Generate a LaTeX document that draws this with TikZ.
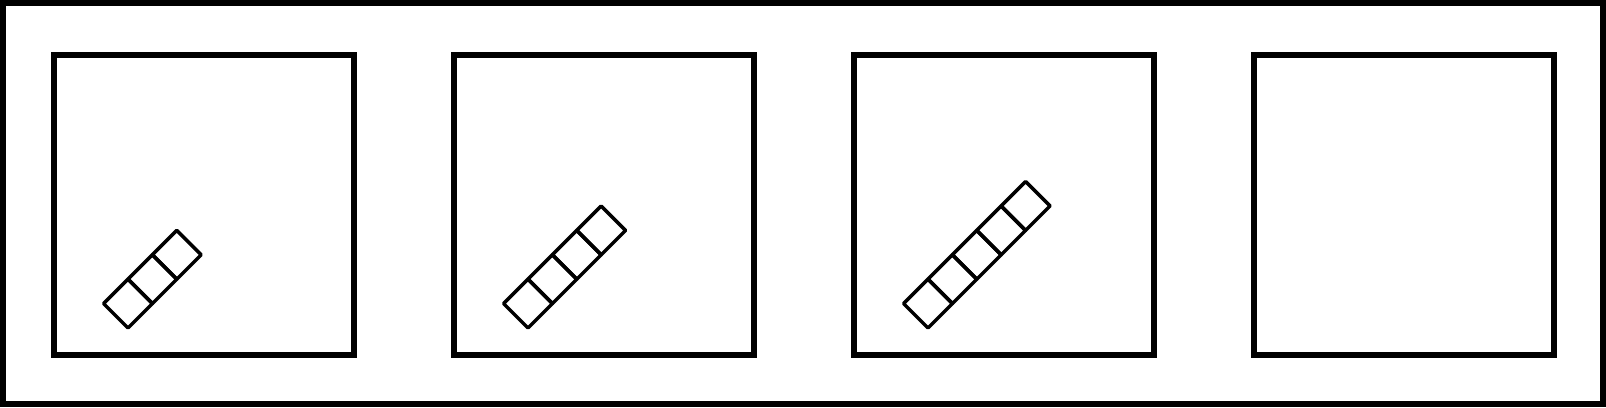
\documentclass[tikz,border=0pt]{standalone}
\usepackage{tkz-euclide}
\usepackage{tikz}

\begin{document}
\begin{tikzpicture}[scale=1]
    \tkzDefPoints{0/0/O,16.06/4.07/P}
    \useasboundingbox (O) rectangle (P);
    \tkzDefPoints{0.03/0.03/F1,16.03/0.03/F2,16.03/4.04/F3,0.03/4.04/F4} %CORNICE
    \tkzDrawPolygon[line width=0.06cm,line join=miter](F1,F2,F3,F4)
    \tkzDefPoints{0.54/0.52/A1,3.54/0.52/B1,3.54/3.52/C1,0.54/3.52/D1}
    \tkzDefPoints{4.54/0.52/A2,7.54/0.52/B2,7.54/3.52/C2,4.54/3.52/D2}
    \tkzDefPoints{8.54/0.52/A3,11.54/0.52/B3,11.54/3.52/C3,8.54/3.52/D3}
    \tkzDefPoints{12.54/0.52/A4,15.54/0.52/B4,15.54/3.52/C4,12.54/3.52/D4}
    \tkzDrawPolygon[line width=0.06cm,line join=miter](A1,B1,C1,D1)
    \tkzDrawPolygon[line width=0.06cm,line join=miter](A2,B2,C2,D2)
    \tkzDrawPolygon[line width=0.06cm,line join=miter](A3,B3,C3,D3)
    \tkzDrawPolygon[line width=0.06cm,line join=miter](A4,B4,C4,D4)
    \foreach \i/\n in {0/3,1/4,2/5}{ %QUADRATINI
        \foreach \k in {1,...,\n}{
            \draw[line width=0.035cm,line join=round]
                ({1.28+4*\i+0.244*(\k-1)},{0.79+0.244*(\k-1)})
                -- ++(0.244,0.244) -- ++(-0.244,0.244) -- ++(-0.244,-0.244) -- cycle;
        }
    }
\end{tikzpicture}
\end{document}
